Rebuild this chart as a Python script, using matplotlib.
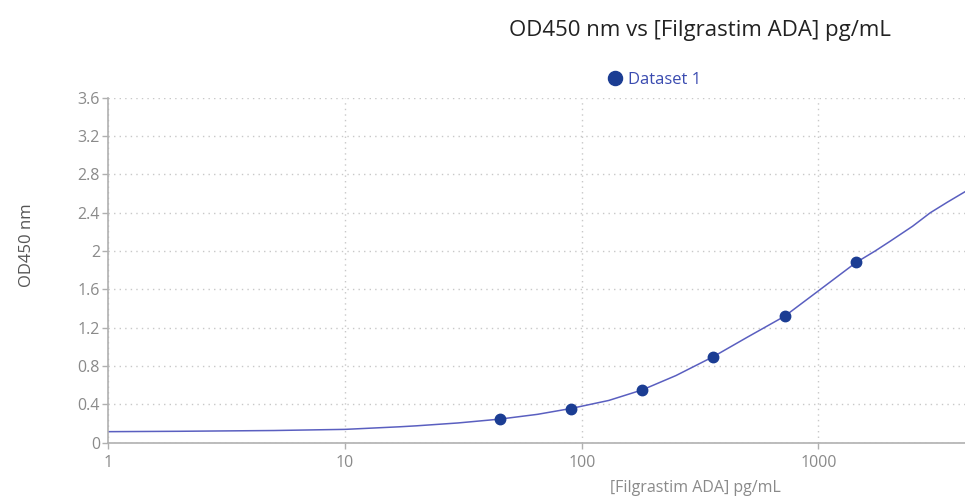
import numpy as np
import matplotlib
matplotlib.use('Agg')
import matplotlib.pyplot as plt
from matplotlib.ticker import FixedLocator, NullLocator

plt.rcParams['font.family'] = ['Open Sans', 'DejaVu Sans']

# standards
conc = [45, 90, 180, 360, 720, 1440]
od = [0.243, 0.354, 0.549, 0.897, 1.321, 1.882]

# fitted curve
curve_x = [1, 2, 5, 10, 17, 20, 30, 45, 65, 90, 130, 180, 250, 360, 500, 720,
           1000, 1440, 1733, 2000, 2500, 2966, 3500, 4160]
curve_y = [0.114, 0.118, 0.126, 0.138, 0.165, 0.175, 0.205, 0.245, 0.295, 0.356,
           0.44, 0.55, 0.70, 0.898, 1.10, 1.32, 1.585, 1.88, 2.0, 2.1, 2.26,
           2.4, 2.51, 2.62]

yticks = [0, 0.4, 0.8, 1.2, 1.6, 2, 2.4, 2.8, 3.2, 3.6]
xticks = [1, 10, 100, 1000]

dot_col = '#1b3d93'
line_col = '#5a5fc0'
grey = '#8a8a8a'

fig = plt.figure(figsize=(9.65, 5.01), dpi=100)
ax = fig.add_axes([0.1123, 0.1166, 0.8877, 0.688])

ax.plot(curve_x, curve_y, color=line_col, linewidth=1.1, zorder=2)
ax.plot(conc, od, linestyle='none', marker='o', markersize=7.5,
        color=dot_col, label='Dataset 1', zorder=3)

ax.set_xscale('log')
ax.set_xlim(1, 4160)
ax.set_ylim(0, 3.6)
ax.xaxis.set_major_locator(FixedLocator(xticks))
ax.xaxis.set_minor_locator(NullLocator())
ax.set_xticklabels([str(v) for v in xticks])
ax.set_yticks(yticks)
ax.set_yticklabels(['%g' % v for v in yticks])

ax.grid(True, color='#c8c8c8', linestyle=(0, (1, 3)), linewidth=1)
ax.set_axisbelow(True)
for s in ['top', 'right']:
    ax.spines[s].set_visible(False)
for s in ['left', 'bottom']:
    ax.spines[s].set_color('#b0b0b0')
    ax.spines[s].set_linewidth(1.2)
ax.tick_params(axis='both', colors='#b0b0b0', labelcolor=grey, labelsize=11.5,
               length=4, width=1)
ax.tick_params(axis='x', pad=5)
ax.tick_params(axis='y', pad=2)

ax.set_xlabel('[Filgrastim ADA] pg/mL', fontsize=11.5, color=grey)
ax.xaxis.set_label_coords(0.6856, -0.108)
ax.set_ylabel('OD450 nm', fontsize=12, color='#555555')
ax.yaxis.set_label_coords(-0.086, 0.572)

fig.text(0.7254, 0.94, 'OD450 nm vs [Filgrastim ADA] pg/mL', fontsize=16,
         color='#222222', ha='center', va='center')

leg = ax.legend(loc='center left', bbox_to_anchor=(0.5725, 1.052), frameon=False,
                handletextpad=0.15, fontsize=12, labelcolor='#3a4bb0',
                handlelength=1.2, borderaxespad=0, markerscale=1.35)

plt.savefig('out.png', dpi=100)
